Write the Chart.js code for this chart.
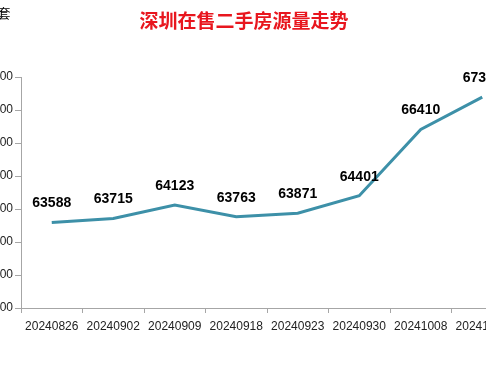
<!DOCTYPE html>
<html>
<head>
<meta charset="utf-8">
<script src="https://cdn.jsdelivr.net/npm/chart.js@4/dist/chart.umd.min.js"></script>
<style>
html,body{margin:0;padding:0;background:#fff;}
#wrap{position:relative;width:486px;height:365px;overflow:hidden;background:#fff;}
#box{position:absolute;left:-40px;top:0;width:568px;height:365px;}
</style>
</head>
<body>
<div id="wrap"><div id="box"><canvas id="c" width="568" height="365"></canvas></div></div>
<script>
const categories = ['20240826','20240902','20240909','20240918','20240923','20240930','20241008','20241015'];
const listings = [63588, 63715, 64123, 63763, 63871, 64401, 66410, 67390];
const yTicks = [61000, 62000, 63000, 64000, 65000, 66000, 67000, 68000];
const titleText = '深圳在售二手房源量走势';
const unitText = '套';

const valueLabels = {
  id: 'valueLabels',
  afterDatasetsDraw(chart) {
    const ctx = chart.ctx;
    const meta = chart.getDatasetMeta(0);
    ctx.save();
    ctx.font = 'bold 14px "Liberation Sans", Arial, sans-serif';
    ctx.fillStyle = '#000';
    ctx.textAlign = 'center';
    ctx.textBaseline = 'middle';
    meta.data.forEach((pt, i) => {
      ctx.fillText(String(chart.data.datasets[0].data[i]), pt.x, pt.y - 19);
    });
    ctx.restore();
  }
};
const headings = {
  id: 'headings',
  afterDraw(chart) {
    const ctx = chart.ctx;
    ctx.save();
    ctx.fillStyle = '#000';
    ctx.font = '13px "Noto Sans CJK SC", sans-serif';
    ctx.textAlign = 'center';
    ctx.textBaseline = 'middle';
    ctx.fillText(unitText, 44, 13);
    ctx.restore();
  }
};

new Chart(document.getElementById('c'), {
  type: 'line',
  data: {
    labels: categories,
    datasets: [{
      data: listings,
      borderColor: '#3d90a8',
      borderWidth: 3,
      pointRadius: 0,
      tension: 0,
      fill: false
    }]
  },
  options: {
    responsive: false,
    animation: false,
    layout: { padding: { left: 15, right: 15, top: 0, bottom: 0 } },
    plugins: {
      legend: { display: false },
      tooltip: { enabled: false },
      title: {
        display: true,
        text: titleText,
        color: '#e8161e',
        font: { family: '"Noto Sans CJK SC", sans-serif', size: 19, weight: 'bold' },
        padding: { top: 9, bottom: 45.2 }
      }
    },
    scales: {
      x: {
        offset: true,
        grid: { display: true, drawOnChartArea: false, drawTicks: true, tickLength: 5, offset: true, color: '#a6a6a6' },
        border: { display: true, color: '#a6a6a6', width: 1 },
        ticks: {
          autoSkip: false, maxRotation: 0, minRotation: 0, padding: 6,
          color: '#222', font: { family: '"Liberation Sans", Arial, sans-serif', size: 12 }
        },
        afterFit(scale) { scale.height = 57; }
      },
      y: {
        min: 61000,
        max: 68000,
        afterBuildTicks(scale) { scale.ticks = yTicks.map(v => ({ value: v })); },
        grid: { display: true, drawOnChartArea: false, drawTicks: true, tickLength: 6, color: '#a6a6a6' },
        border: { display: true, color: '#a6a6a6', width: 1 },
        ticks: {
          padding: 2,
          color: '#222', font: { family: '"Liberation Sans", Arial, sans-serif', size: 12 }
        },
        afterFit(scale) { scale.width = 46; }
      }
    }
  },
  plugins: [valueLabels, headings]
});
</script>
</body>
</html>
